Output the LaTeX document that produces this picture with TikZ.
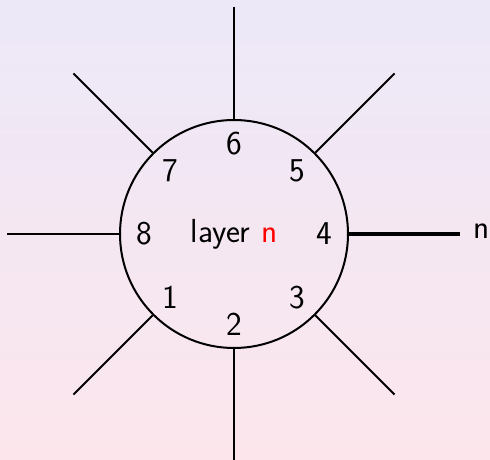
\documentclass[tikz,border=0pt]{standalone}
\usetikzlibrary{calc}
\definecolor{bgtop}{HTML}{ECE8F8}
\definecolor{bgbot}{HTML}{FCE6EC}
\begin{document}
\begin{tikzpicture}[x=0.75pt,y=-0.75pt,
  lab/.style={font=\sffamily\fontsize{25}{30}\selectfont, inner sep=0pt},
  ray/.style={line width=1.5pt},
  thickray/.style={line width=2.6pt}]
\shade[top color=bgtop,bottom color=bgbot] (0,0) rectangle (490,460);
\useasboundingbox (0,0) rectangle (490,460);
\node[circle,draw,line width=1.5pt,minimum size=171pt,inner sep=0pt] (c) at (234,234) {};
\node[lab] (center) at (234,234) {layer \textcolor{red}{n}};
\foreach \num/\ang in {4/0,5/45,6/90,7/135,8/180,1/225,2/270,3/315}{
  \node[lab] (l\num) at ($(c.center)+(-\ang:90)$) {\num};
}
\foreach \ang/\nm in {45/a,90/b,135/c2,180/d,225/e,270/f,315/g}{
  \coordinate (o\nm) at ($(c.center)+(-\ang:227)$);
  \draw[ray] (c.\ang) -- (o\nm);
}
\coordinate (or) at (460,234);
\draw[thickray] (c.0) -- (or);
\node[lab] (nout) at (482,231) {n};
\end{tikzpicture}
\end{document}
